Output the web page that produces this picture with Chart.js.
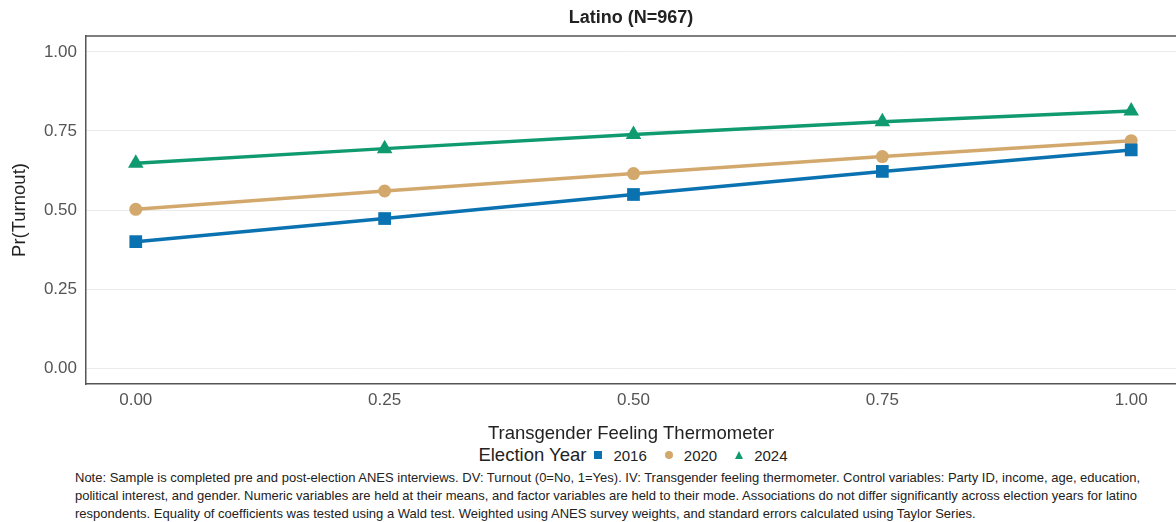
<!DOCTYPE html>
<html>
<head>
<meta charset="utf-8">
<script src="https://cdn.jsdelivr.net/npm/chart.js@4.4.0/dist/chart.umd.min.js"></script>
<style>
  body { margin: 0; background: #fff; font-family: "Liberation Sans", Arial, sans-serif; }
  #wrap { position: relative; width: 1176px; height: 445px; }
  #legend { height: 20px; display: flex; align-items: center; justify-content: center; padding-left: 90px; color: #222; }
  #legend .ttl { font-size: 18.5px; margin-right: 8px; }
  #legend .item { font-size: 15px; margin-right: 18px; display: flex; align-items: center; }
  #legend .item:last-child { margin-right: 0; }
  #legend .mk { display: inline-block; margin-right: 11px; }
  #note { padding: 4px 0 0 75px; font-size: 13px; line-height: 18px; color: #222; width: 1098px; }
</style>
</head>
<body>
<div id="wrap"><canvas id="turnoutChart"></canvas></div>
<div id="legend"></div>
<div id="note">Note: Sample is completed pre and post-election ANES interviews. DV: Turnout (0=No, 1=Yes). IV: Transgender feeling thermometer. Control variables: Party ID, income, age, education, political interest, and gender. Numeric variables are held at their means, and factor variables are held to their mode. Associations do not differ significantly across election years for latino respondents. Equality of coefficients was tested using a Wald test. Weighted using ANES survey weights, and standard errors calculated using Taylor Series.</div>
<script>
// ------ data ------//
var thermo = [0, 0.25, 0.5, 0.75, 1]
var years = ['2016', '2020', '2024']
var turnout2016 = [0.400, 0.473, 0.549, 0.622, 0.690]
var turnout2020 = [0.502, 0.560, 0.615, 0.669, 0.719]
var turnout2024 = [0.648, 0.694, 0.739, 0.779, 0.813]
var tickVals = [0, 0.25, 0.5, 0.75, 1]

var colors = ['#0a72b0', '#d3a86c', '#0f9a6f']
var shapes = ['rect', 'circle', 'triangle']
var radii = [9, 6.5, 9]

function pts(vals) {
	return thermo.map(function (x, i) { return { x: x, y: vals[i] } })
}
var series = [turnout2016, turnout2020, turnout2024]

var ctx = document.getElementById('turnoutChart')

// top frame line like the ggplot panel
var topLine = {
	id: 'topLine',
	afterDraw: function (chart) {
		var c = chart.ctx, a = chart.chartArea
		c.save()
		c.strokeStyle = '#555'
		c.lineWidth = 1.5
		c.beginPath()
		c.moveTo(a.left, a.top)
		c.lineTo(a.right, a.top)
		c.stroke()
		c.restore()
	}
}

var tickFont = { family: 'Liberation Sans, Arial', size: 17 }

var myChart = new Chart(ctx, {
	type: 'line',
	data: {
		datasets: years.map(function (y, i) {
			return {
				label: y,
				data: pts(series[i]),
				borderColor: colors[i],
				backgroundColor: colors[i],
				borderWidth: 3.5,
				pointStyle: shapes[i],
				pointRadius: radii[i],
				pointHoverRadius: radii[i],
				pointBorderWidth: 0,
				lineTension: 0,
				fill: false
			}
		})
	},
	options: {
		responsive: true,
		maintainAspectRatio: false,
		animation: false,
		layout: { padding: 0, autoPadding: false },
		plugins: {
			legend: { display: false },
			tooltip: { enabled: false },
			title: {
				display: true,
				text: 'Latino (N=967)',
				fullSize: false,
				color: '#222',
				font: { family: 'Liberation Sans, Arial', size: 18, weight: 'bold' },
				padding: { top: 7, bottom: 7.4 }
			}
		},
		scales: {
			x: {
				type: 'linear',
				min: -0.05,
				max: 1.045,
				afterBuildTicks: function (s) { s.ticks = tickVals.map(function (v) { return { value: v } }) },
				afterFit: function (s) { s.height = 61; s.paddingRight = 0; s.paddingLeft = 0 },
				grid: { color: 'transparent', drawTicks: false },
				border: { display: true, color: '#555', width: 1.5 },
				ticks: {
					padding: 6,
					color: '#555',
					font: tickFont,
					callback: function (v) { return v.toFixed(2) }
				},
				title: {
					display: true,
					text: 'Transgender Feeling Thermometer',
					color: '#222',
					font: { family: 'Liberation Sans, Arial', size: 18.5 },
					padding: { top: 10.5, bottom: 0 }
				}
			},
			y: {
				min: -0.05,
				max: 1.05,
				afterBuildTicks: function (s) { s.ticks = tickVals.map(function (v) { return { value: v } }) },
				afterFit: function (s) { s.width = 86 },
				grid: { color: '#ebebeb', lineWidth: 1, drawTicks: false },
				border: { display: true, color: '#555', width: 1.5 },
				ticks: {
					padding: 9,
					color: '#555',
					font: tickFont,
					callback: function (v) { return v.toFixed(2) }
				},
				title: {
					display: true,
					text: 'Pr(Turnout)',
					color: '#222',
					font: { family: 'Liberation Sans, Arial', size: 18.5 },
					padding: { top: 9, bottom: 0 }
				}
			}
		}
	},
	plugins: [topLine]
})

// legend in the ggplot style, one row
var lg = document.getElementById('legend')
var t = document.createElement('span')
t.className = 'ttl'
t.textContent = 'Election Year'
lg.appendChild(t)
years.forEach(function (y, i) {
	var it = document.createElement('span')
	it.className = 'item'
	var mk = document.createElement('span')
	mk.className = 'mk'
	if (shapes[i] === 'rect') {
		mk.style.cssText = 'width:8px;height:8px;background:' + colors[i]
	} else if (shapes[i] === 'circle') {
		mk.style.cssText = 'width:8px;height:8px;border-radius:50%;background:' + colors[i]
	} else {
		mk.style.cssText = 'width:0;height:0;border-left:4.5px solid transparent;border-right:4.5px solid transparent;border-bottom:8px solid ' + colors[i]
	}
	it.appendChild(mk)
	var tx = document.createElement('span')
	tx.textContent = y
	it.appendChild(tx)
	lg.appendChild(it)
})
</script>
</body>
</html>
